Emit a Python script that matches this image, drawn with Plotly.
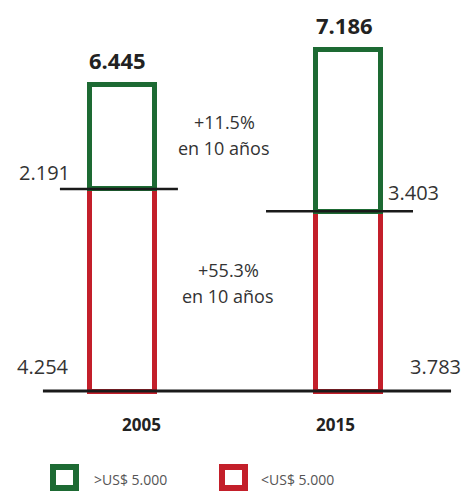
import plotly.graph_objects as go

# data
years = ["2005", "2015"]
under_5000 = [4.254, 3.783]   # <US$ 5.000
over_5000 = [2.191, 3.403]    # >US$ 5.000
totals = [6.445, 7.186]
growth_total = "+11.5%"
growth_over = "+55.3%"
value_fmt = ["2.191", "3.403", "4.254", "3.783", "6.445", "7.186"]

GREEN = "#1d6a33"
RED = "#c31f2a"
TEXT = "#333333"
W, H = 466, 493
FONT = "Open Sans, sans-serif"


def px(x):
    return x / W


def py(y):
    return 1 - y / H


fig = go.Figure()
fig.add_trace(go.Bar(
    x=years, y=under_5000, name="<US$ 5.000", width=0.287,
    marker=dict(color="white", line=dict(color=RED, width=5)),
    hoverinfo="skip",
))
fig.add_trace(go.Bar(
    x=years, y=over_5000, name=">US$ 5.000", width=0.287,
    marker=dict(color="white", line=dict(color=GREEN, width=5)),
    hoverinfo="skip",
))

shapes = [
    # baseline
    dict(type="line", xref="x", yref="y", x0=-0.349, x1=1.453, y0=0, y1=0,
         line=dict(color="#1a1a1a", width=3)),
    # split lines
    dict(type="line", xref="x", yref="y", x0=-0.274, x1=0.247,
         y0=under_5000[0], y1=under_5000[0], line=dict(color="#1a1a1a", width=2.5)),
    dict(type="line", xref="x", yref="y", x0=0.636, x1=1.285,
         y0=under_5000[1], y1=under_5000[1], line=dict(color="#1a1a1a", width=2.5)),
    # legend squares
    dict(type="rect", xref="paper", yref="paper", x0=px(53), x1=px(76), y0=py(488), y1=py(467),
         line=dict(color=GREEN, width=6), fillcolor="white"),
    dict(type="rect", xref="paper", yref="paper", x0=px(222), x1=px(245), y0=py(488), y1=py(467),
         line=dict(color=RED, width=6), fillcolor="white"),
]

ann = []
# totals
for i in range(len(years)):
    ann.append(dict(x=i, y=totals[i], text=f"<b>{value_fmt[4 + i]}</b>", showarrow=False,
                    yanchor="bottom", yshift=8, xshift=-4,
                    font=dict(size=22, color="#222222", family=FONT)))
# segment values
ann += [
    dict(x=-0.221, y=under_5000[0], text=value_fmt[0], xanchor="right", yanchor="middle",
         yshift=16, showarrow=False, font=dict(size=20, color=TEXT, family=FONT)),
    dict(x=1.166, y=under_5000[1], text=value_fmt[1], xanchor="left", yanchor="middle",
         yshift=19, showarrow=False, font=dict(size=20, color=TEXT, family=FONT)),
    dict(x=-0.225, y=0, text=value_fmt[2], xanchor="right", yanchor="middle",
         yshift=25, showarrow=False, font=dict(size=20, color=TEXT, family=FONT)),
    dict(x=1.263, y=0, text=value_fmt[3], xanchor="left", yanchor="middle",
         yshift=25, showarrow=False, font=dict(size=20, color=TEXT, family=FONT)),
]
# growth notes
for txt, xc, yc in [(growth_total, 224, 122), (growth_over, 228, 270)]:
    ann.append(dict(xref="paper", yref="paper", x=px(xc), y=py(yc), text=txt,
                    showarrow=False, xanchor="center", yanchor="middle",
                    font=dict(size=18, color=TEXT, family=FONT)))
    ann.append(dict(xref="paper", yref="paper", x=px(xc), y=py(yc + 26), text="en 10 años",
                    showarrow=False, xanchor="center", yanchor="middle",
                    font=dict(size=18, color=TEXT, family=FONT)))
# year labels
for yr, xc in zip(years, [141, 335]):
    ann.append(dict(xref="paper", yref="paper", x=px(xc), y=py(424), text=f"<b>{yr}</b>",
                    showarrow=False, xanchor="center", yanchor="middle",
                    font=dict(size=17, color="#222222", family=FONT)))
# legend text
for txt, xl in [(">US$ 5.000", 92), ("<US$ 5.000", 259)]:
    ann.append(dict(xref="paper", yref="paper", x=px(xl), y=py(479), text=txt,
                    showarrow=False, xanchor="left", yanchor="middle",
                    font=dict(size=14, color="#555555", family=FONT)))

fig.update_layout(
    width=W, height=H,
    margin=dict(l=0, r=0, t=0, b=0, pad=0),
    barmode="stack",
    showlegend=False,
    plot_bgcolor="white",
    paper_bgcolor="white",
    xaxis=dict(type="category", range=[-0.5386, 1.519], visible=False, fixedrange=True),
    yaxis=dict(range=[-2.147, 8.232], visible=False, fixedrange=True),
    shapes=shapes,
    annotations=ann,
)

fig.write_html("out.html", config={"displayModeBar": False},
               post_script="document.body.style.margin='0';")
